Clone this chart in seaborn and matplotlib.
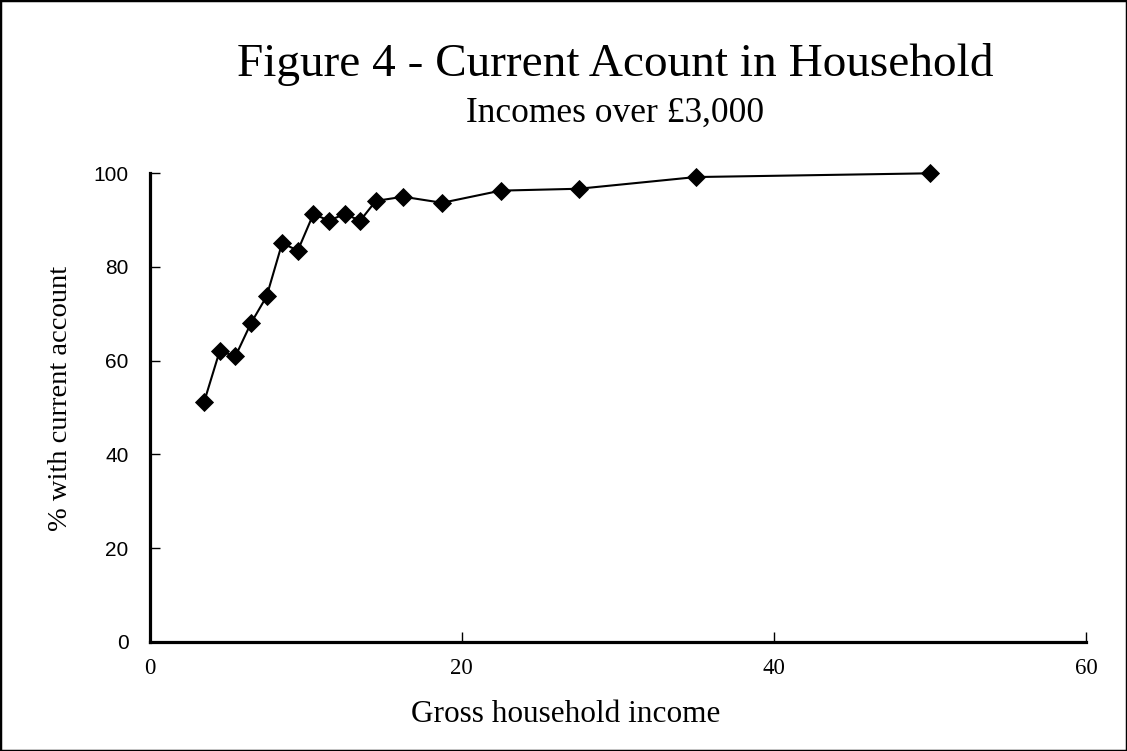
import matplotlib
matplotlib.use("Agg")
import matplotlib.pyplot as plt
import matplotlib.patches as mpatches
import seaborn as sns
import pandas as pd

# Data
income = [3.5, 4.5, 5.5, 6.5, 7.5, 8.5, 9.5, 10.5, 11.5, 12.5, 13.5, 14.5,
          16.25, 18.75, 22.5, 27.5, 35, 50]
pct_current = [51.2, 62.1, 60.9, 68.0, 73.7, 85.1, 83.5, 91.3, 89.9, 91.3, 89.9,
               94.1, 95.0, 93.7, 96.3, 96.7, 99.2, 100.0]
x_ticks = [0, 20, 40, 60]
y_ticks = [0, 20, 40, 60, 80, 100]

title = "Figure 4 - Current Acount in Household"
subtitle = "Incomes over £3,000"
x_label = "Gross household income"
y_label = "% with current account"

sns.set_style("white")
plt.rcParams['font.family'] = ['Liberation Serif', 'DejaVu Serif']
plt.rcParams['text.color'] = 'black'
plt.rcParams['axes.labelcolor'] = 'black'
plt.rcParams['xtick.color'] = 'black'
plt.rcParams['ytick.color'] = 'black'

df = pd.DataFrame({"income": income, "pct": pct_current})

W, H = 1127, 751
fig = plt.figure(figsize=(W / 100, H / 100), dpi=100)
fig.patch.set_facecolor("white")

x0, x1 = 149.5, 1086
y_top, y_bot = 173.3, 641.7
ax = fig.add_axes([x0 / W, (H - y_bot) / H, (x1 - x0) / W, (y_bot - y_top) / H])

sns.lineplot(data=df, x="income", y="pct", ax=ax, color="black", linewidth=1.5,
             marker="D", markersize=9, markeredgecolor="black", markeredgewidth=0.6,
             markerfacecolor="black")
for ln in ax.lines:
    ln.set_clip_on(False)

ax.set_xlim(0, 60)
ax.set_ylim(0, 100)
ax.set_xticks(x_ticks)
ax.set_yticks(y_ticks)
ax.set_xticklabels([str(v) for v in x_ticks], fontfamily="Liberation Serif",
                   fontsize=16.5, color="black")
ax.set_yticklabels([str(v) for v in y_ticks], fontfamily="Liberation Sans",
                   fontsize=15, color="black")
ax.tick_params(axis="x", which="major", bottom=True, direction="in", length=7,
               width=1, pad=12, colors="black")
ax.tick_params(axis="y", which="major", left=True, direction="in", length=7,
               width=1, pad=15, colors="black")
ax.set_xlabel("")
ax.set_ylabel("")

for side in ["top", "right"]:
    ax.spines[side].set_visible(False)
for side in ["left", "bottom"]:
    ax.spines[side].set_linewidth(2.3)
    ax.spines[side].set_color("black")
ax.grid(False)

# Titles and labels
fig.text(615 / W, 1 - 76 / H, title, ha="center", va="baseline", fontsize=34,
         fontfamily="Liberation Serif", color="black")
fig.text(615 / W, 1 - 121.7 / H, subtitle, ha="center", va="baseline", fontsize=25.5,
         fontfamily="Liberation Serif", color="black")
fig.text(565.5 / W, 1 - 721.7 / H, x_label, ha="center", va="baseline", fontsize=22.5,
         fontfamily="Liberation Serif", color="black")
fig.text(61 / W, 1 - 398.5 / H, y_label, ha="center", va="center", rotation=90,
         fontsize=20.5, fontfamily="Liberation Serif", color="black")

# Outer frame
fig.patches.append(mpatches.Rectangle((0, 0), 1, 1, transform=fig.transFigure,
                                      fill=False, edgecolor="black", linewidth=2.5,
                                      zorder=10))

fig.savefig("out.png", dpi=100)
